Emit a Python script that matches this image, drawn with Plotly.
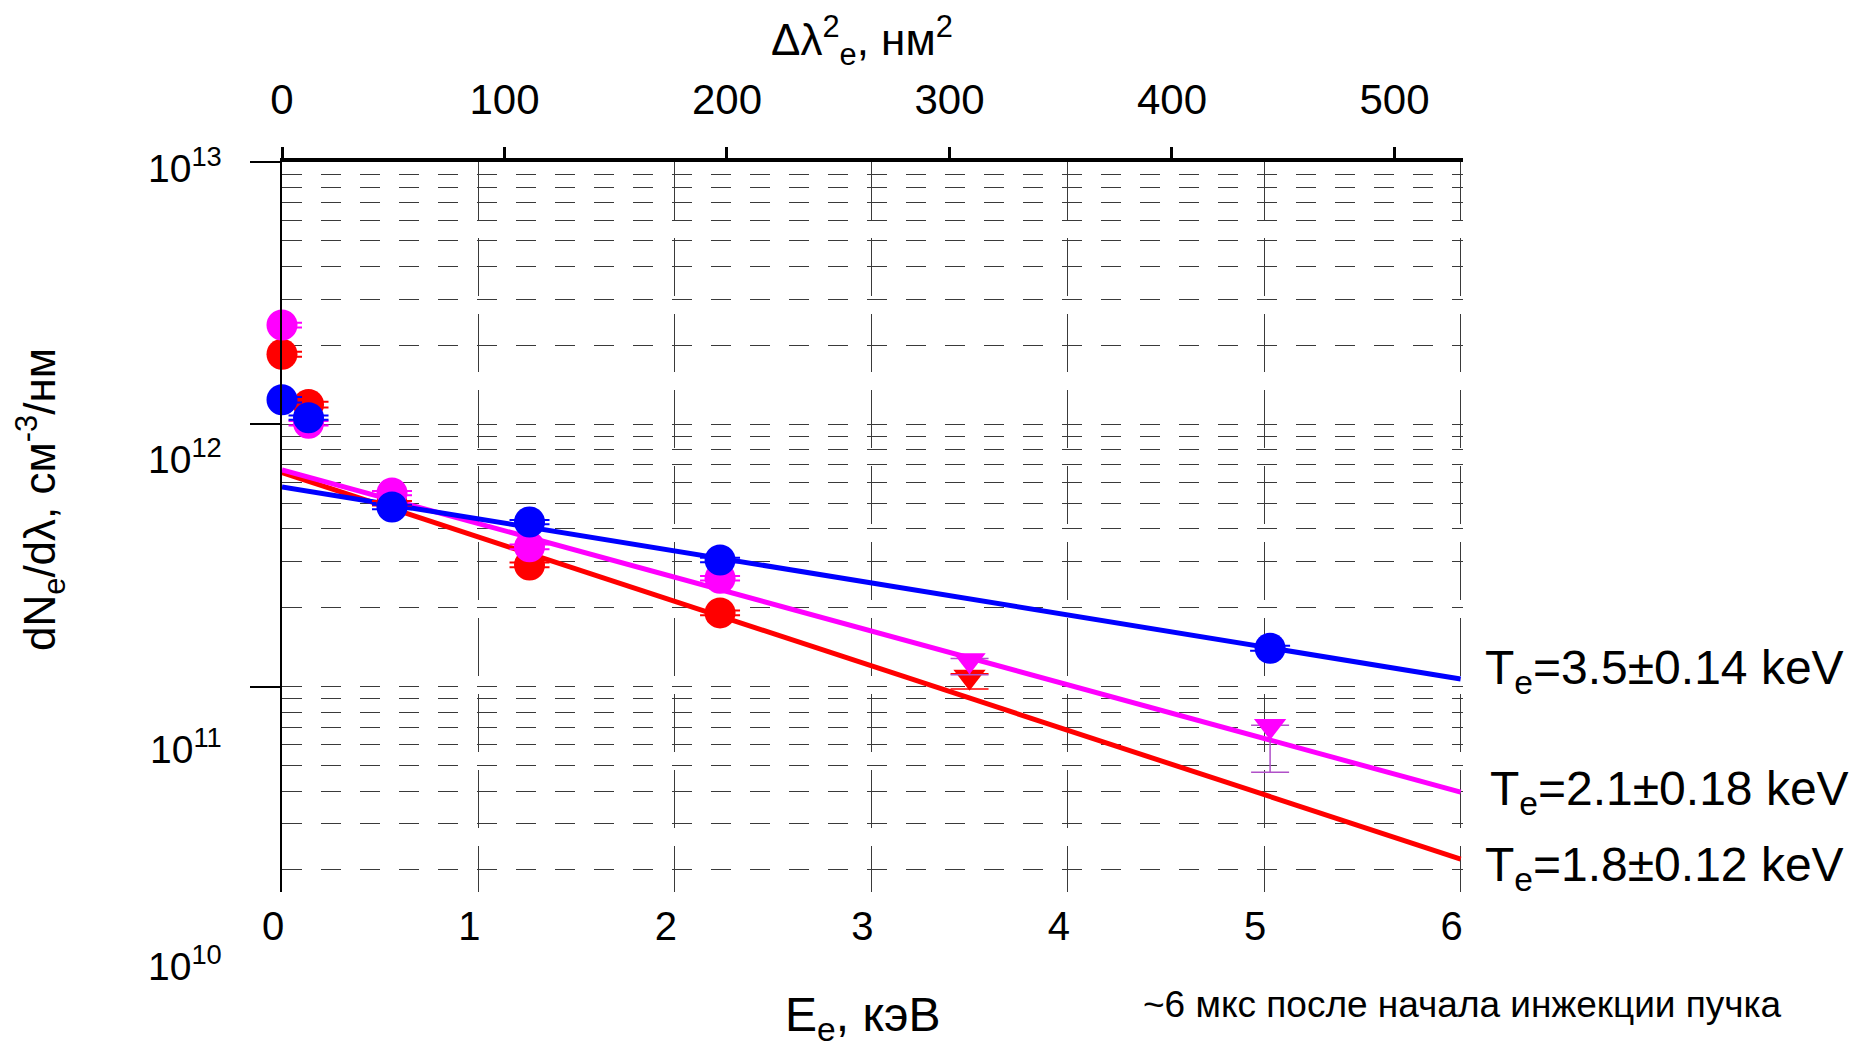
import plotly.graph_objects as go

# ---------------- data ----------------
E_circ = [0.0, 0.135, 0.56, 1.26, 2.23]
red_circ = [1.85e12, 1.19e12, 5.0e11, 2.91e11, 1.91e11]
red_circ_err = [0.04e12, 0.03e12, 0.1e11, 0.06e11, 0.04e11]
mag_circ = [2.39e12, 1.01e12, 5.47e11, 3.41e11, 2.59e11]
mag_circ_err = [0.05e12, 0.02e12, 0.1e11, 0.07e11, 0.05e11]

blue_E = [0.0, 0.135, 0.56, 1.26, 2.23, 5.03]
blue_circ = [1.24e12, 1.06e12, 4.84e11, 4.24e11, 3.04e11, 1.40e11]
blue_circ_err = [0.03e12, 0.02e12, 0.1e11, 0.08e11, 0.06e11, 0.03e11]

red_tri_E = [3.50]
red_tri = [1.09e11]
red_tri_err_plus = [0.03e11]
red_tri_err_minus = [0.11e11]

mag_tri_E = [3.50, 5.03]
mag_tri = [1.26e11, 7.08e10]
mag_tri_err_plus = [0.02e11, 0.05e10]
mag_tri_err_minus = [0.15e11, 2.36e10]

fit_E = [0.0, 6.0]
fit_blue = [5.77e11, 1.07e11]
fit_mag = [6.70e11, 3.96e10]
fit_red = [6.55e11, 2.20e10]

bottom_ticks = [0, 1, 2, 3, 4, 5, 6]
top_ticks = [0, 100, 200, 300, 400, 500]
y_major = [1e11, 1e12, 1e13]
y_minor = [m * 10 ** d for d in (10, 11, 12) for m in range(2, 10)]
y_tick_labels = ["10<sup>13</sup>", "10<sup>12</sup>", "10<sup>11</sup>", "10<sup>10</sup>"]
fit_labels = ["T<sub>e</sub>=3.5±0.14 keV", "T<sub>e</sub>=2.1±0.18 keV", "T<sub>e</sub>=1.8±0.12 keV"]

# ---------------- styles ----------------
RED = "#ff0000"
MAG = "#ff00ff"
BLUE = "#0000ff"
GRID = "#3a3a3a"
REG = "Liberation Sans, Arial, sans-serif"

OFF = 8  # default page body margin
W, H = 1860 - OFF, 1050 - OFF
L, T = 282 - OFF, 162 - OFF
PW, PH = 1181, 730
R, B = W - L - PW, H - T - PH


def px(x):
    return (x - OFF - L) / PW


def py(y):
    return (T + PH - (y - OFF)) / PH


fig = go.Figure()

# fit lines
for ys, c in ((fit_red, RED), (fit_mag, MAG), (fit_blue, BLUE)):
    fig.add_trace(go.Scatter(x=fit_E, y=ys, mode="lines", line=dict(color=c, width=5),
                             showlegend=False, hoverinfo="skip", cliponaxis=False))

# circles
for xs, ys, err, c in ((E_circ, red_circ, red_circ_err, RED),
                        (E_circ, mag_circ, mag_circ_err, MAG),
                        (blue_E, blue_circ, blue_circ_err, BLUE)):
    fig.add_trace(go.Scatter(x=xs, y=ys, mode="markers",
                             marker=dict(symbol="circle", size=31, color=c),
                             error_y=dict(type="data", array=err, color=c, thickness=2, width=20),
                             showlegend=False, cliponaxis=False))

# triangles
fig.add_trace(go.Scatter(x=red_tri_E, y=red_tri, mode="markers",
                         marker=dict(symbol="triangle-down", size=28, color=RED),
                         error_y=dict(type="data", symmetric=False, array=red_tri_err_plus,
                                      arrayminus=red_tri_err_minus, color=RED, thickness=1.5, width=19),
                         showlegend=False, cliponaxis=False))
fig.add_trace(go.Scatter(x=mag_tri_E, y=mag_tri, mode="markers",
                         marker=dict(symbol="triangle-down", size=28, color=MAG),
                         error_y=dict(type="data", symmetric=False, array=mag_tri_err_plus,
                                      arrayminus=mag_tri_err_minus, color="#b050c8", thickness=1.5, width=19),
                         showlegend=False, cliponaxis=False))

# invisible trace carrying the top axis
fig.add_trace(go.Scatter(x=top_ticks, y=[None] * len(top_ticks), xaxis="x2", yaxis="y",
                         mode="markers", showlegend=False, hoverinfo="skip"))

fig.update_layout(
    width=W, height=H, autosize=False,
    margin=dict(l=L, r=R, t=T, b=B),
    paper_bgcolor="white", plot_bgcolor="white",
    showlegend=False,
    xaxis=dict(range=[0, 6.012], tickvals=bottom_ticks, ticktext=[str(v) for v in bottom_ticks],
               showline=False, zeroline=False, ticks="",
               showgrid=True, gridcolor=GRID, gridwidth=1.3, griddash="58px,18px",
               tickfont=dict(family=REG, size=40, color="black"),
               ticklabelshift=-9, ticklabelstandoff=7),
    xaxis2=dict(range=[0, 530.8], overlaying="x", side="top", anchor="y",
                tickvals=top_ticks, ticktext=[str(v) for v in top_ticks],
                showline=True, linecolor="black", linewidth=4,
                ticks="outside", ticklen=11, tickwidth=3, tickcolor="black",
                showgrid=False, zeroline=False,
                tickfont=dict(family=REG, size=42, color="black"),
                ticklabelstandoff=16),
    yaxis=dict(type="log", range=[10.217, 13.0], tickvals=y_major,
               showticklabels=False, showline=True, linecolor="black", linewidth=1.5,
               ticks="outside", ticklen=30, tickwidth=1.5, tickcolor="black",
               showgrid=True, gridcolor=GRID, gridwidth=1.3, griddash="20px,19px",
               zeroline=False,
               minor=dict(tickvals=y_minor, showgrid=True, gridcolor=GRID, gridwidth=1.3,
                          griddash="20px,19px", ticks="")),
)

ann = []
for lab, yy in zip(y_tick_labels, (166, 457, 746, 963)):
    ann.append(dict(text=lab, x=px(224), y=py(yy), xref="paper", yref="paper",
                    xanchor="right", yanchor="middle", showarrow=False,
                    font=dict(family=REG, size=39, color="black")))
for lab, xx, yy in zip(fit_labels, (1483, 1488, 1483), (671, 792, 868)):
    ann.append(dict(text=lab, x=px(xx), y=py(yy), xref="paper", yref="paper",
                    xanchor="left", yanchor="middle", showarrow=False,
                    font=dict(family=REG, size=48, color="black")))
ann.append(dict(text="~6 мкс после начала инжекции пучка", x=px(1141), y=py(1004),
                xref="paper", yref="paper", xanchor="left", yanchor="middle", showarrow=False,
                font=dict(family=REG, size=37, color="black")))
ann.append(dict(text="E<sub>e</sub>, кэВ", x=px(862), y=py(1018),
                xref="paper", yref="paper", xanchor="center", yanchor="middle", showarrow=False,
                font=dict(family=REG, size=48, color="black")))
ann.append(dict(text="Δλ<sup>2</sup><sub>e</sub>, нм<sup>2</sup>", x=px(862), y=py(41),
                xref="paper", yref="paper", xanchor="center", yanchor="middle", showarrow=False,
                font=dict(family=REG, size=44, color="black")))
ann.append(dict(text="dN<sub>e</sub>/dλ, см<sup>-3</sup>/нм", x=px(40), y=py(500),
                xref="paper", yref="paper", xanchor="center", yanchor="middle", showarrow=False,
                textangle=-90, font=dict(family=REG, size=44, color="black")))
fig.update_layout(annotations=ann)

fig.write_html("out.html")
